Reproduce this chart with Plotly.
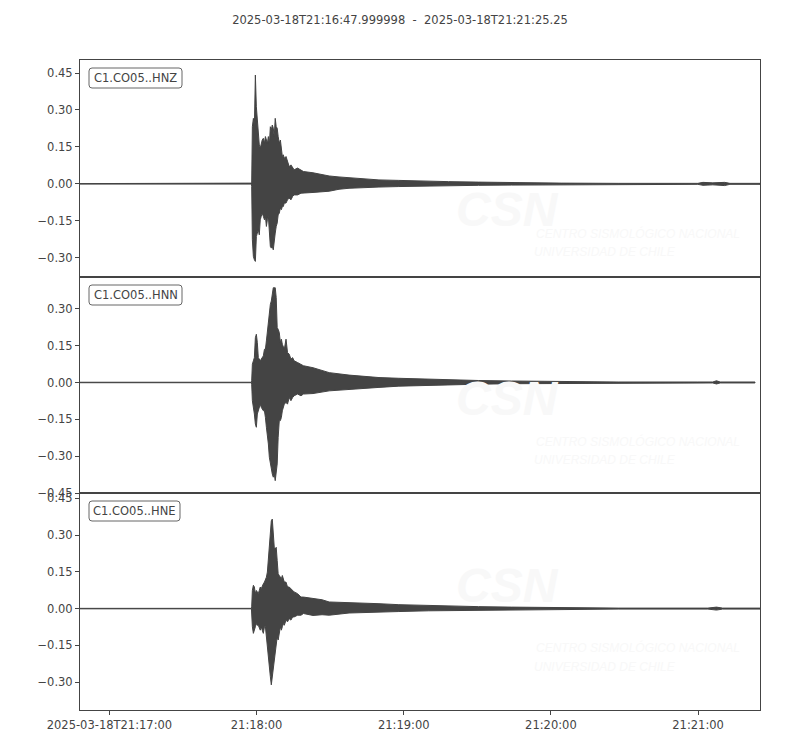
import pandas as pd
import plotly.graph_objects as go
from plotly.subplots import make_subplots

# ---------------- data ----------------
START = "2025-03-18T21:16:47.999998"
END = "2025-03-18T21:21:25.25"
TITLE = "2025-03-18T21:16:47.999998  -  2025-03-18T21:21:25.25"
CHANNELS = ["C1.CO05..HNZ", "C1.CO05..HNN", "C1.CO05..HNE"]

# seconds after START, upper / lower envelope of each trace
T_HNZ = [0.0, 69.9, 70.0, 70.28, 70.69, 71.09, 71.5, 71.9, 72.3, 72.7, 73.1, 73.5, 73.9, 74.3,
         74.75, 75.2, 75.6, 76.0, 76.4, 76.8, 77.2, 77.6, 78.0, 78.4, 78.8, 79.2, 79.6, 80.0,
         80.4, 80.8, 81.25, 81.7, 82.1, 82.5, 82.9, 83.3, 84.0, 84.6, 85.3, 86.0, 86.7, 87.3,
         88.7, 90.1, 91.1, 95.0, 101.6, 105.6, 109.7, 115.8, 121.9, 130.0, 142.2, 150.3, 162.5,
         175.9, 196.2, 219.4, 251.9, 254.0, 258.0, 262.8, 265.0, 277.25]
UP_HNZ = [0.001, 0.001, 0.003, 0.232, 0.266, 0.232, 0.442, 0.313, 0.246, 0.219, 0.158, 0.145,
          0.165, 0.178, 0.185, 0.165, 0.192, 0.178, 0.165, 0.192, 0.158, 0.232, 0.219, 0.239,
          0.226, 0.192, 0.266, 0.232, 0.226, 0.192, 0.165, 0.178, 0.131, 0.111, 0.118, 0.104,
          0.111, 0.090, 0.070, 0.077, 0.064, 0.057, 0.064, 0.057, 0.050, 0.045, 0.032, 0.028,
          0.025, 0.020, 0.016, 0.014, 0.010, 0.009, 0.007, 0.005, 0.003, 0.002, 0.002, 0.006,
          0.004, 0.006, 0.002, 0.002]
LO_HNZ = [-0.001, -0.001, -0.011, -0.227, -0.295, -0.308, -0.315, -0.214, -0.200, -0.186, -0.207,
          -0.146, -0.132, -0.119, -0.132, -0.146, -0.132, -0.173, -0.146, -0.132, -0.159, -0.254,
          -0.261, -0.254, -0.268, -0.247, -0.200, -0.173, -0.159, -0.126, -0.119, -0.098, -0.105,
          -0.092, -0.092, -0.078, -0.078, -0.065, -0.058, -0.065, -0.051, -0.045, -0.045, -0.038,
          -0.038, -0.035, -0.030, -0.022, -0.018, -0.015, -0.013, -0.011, -0.008, -0.007, -0.006,
          -0.005, -0.003, -0.002, -0.002, -0.006, -0.004, -0.007, -0.002, -0.002]

T_HNN = [0.0, 69.9, 70.0, 70.28, 70.69, 71.09, 71.5, 71.9, 72.3, 72.7, 73.1, 73.5, 73.9, 74.3,
         74.75, 75.2, 75.6, 76.0, 76.4, 76.8, 77.2, 77.6, 78.0, 78.4, 78.8, 79.2, 79.6, 80.0,
         80.4, 80.8, 81.25, 81.7, 82.1, 82.5, 82.9, 83.3, 84.0, 84.6, 85.3, 86.0, 86.7, 87.3,
         88.7, 90.1, 91.1, 95.0, 101.6, 109.7, 121.9, 130.0, 142.2, 150.3, 162.5, 175.9, 196.2,
         219.4, 251.9, 258.0, 259.5, 261.0, 275.2]
UP_HNN = [0.001, 0.001, 0.007, 0.074, 0.088, 0.101, 0.182, 0.196, 0.162, 0.101, 0.095, 0.088,
          0.095, 0.101, 0.108, 0.135, 0.135, 0.169, 0.209, 0.250, 0.277, 0.317, 0.331, 0.365,
          0.385, 0.385, 0.385, 0.345, 0.223, 0.216, 0.203, 0.162, 0.176, 0.155, 0.142, 0.135,
          0.176, 0.122, 0.115, 0.095, 0.101, 0.088, 0.081, 0.074, 0.068, 0.060, 0.040, 0.030,
          0.020, 0.017, 0.013, 0.010, 0.008, 0.006, 0.004, 0.002, 0.002, 0.002, 0.007, 0.002,
          0.002]
LO_HNN = [-0.001, -0.001, -0.007, -0.074, -0.101, -0.128, -0.169, -0.182, -0.128, -0.115, -0.101,
          -0.088, -0.101, -0.108, -0.115, -0.115, -0.142, -0.182, -0.223, -0.250, -0.304, -0.324,
          -0.345, -0.372, -0.385, -0.372, -0.399, -0.385, -0.331, -0.223, -0.155, -0.155, -0.142,
          -0.115, -0.101, -0.088, -0.081, -0.088, -0.061, -0.074, -0.061, -0.054, -0.047, -0.054,
          -0.047, -0.045, -0.034, -0.027, -0.020, -0.015, -0.011, -0.009, -0.007, -0.005, -0.004,
          -0.002, -0.002, -0.002, -0.006, -0.002, -0.002]

T_HNE = [0.0, 69.9, 70.0, 70.28, 70.69, 71.09, 71.5, 71.9, 72.3, 72.7, 73.1, 73.5, 73.9, 74.3,
         74.75, 75.2, 75.6, 76.0, 76.4, 76.8, 77.2, 77.6, 78.0, 78.4, 78.8, 79.2, 79.6, 80.0,
         80.4, 80.8, 81.25, 81.7, 82.1, 82.5, 82.9, 83.3, 84.0, 84.6, 85.3, 86.0, 86.7, 87.3,
         88.7, 90.1, 91.1, 95.0, 98.7, 101.6, 109.7, 121.9, 130.0, 142.2, 150.3, 162.5, 175.9,
         196.2, 219.4, 256.0, 259.5, 262.0, 277.25]
UP_HNE = [0.001, 0.001, 0.007, 0.074, 0.095, 0.088, 0.061, 0.074, 0.068, 0.061, 0.074, 0.088,
          0.081, 0.095, 0.101, 0.108, 0.115, 0.128, 0.149, 0.196, 0.236, 0.304, 0.358, 0.365,
          0.291, 0.250, 0.243, 0.250, 0.196, 0.142, 0.135, 0.128, 0.122, 0.135, 0.122, 0.108,
          0.108, 0.088, 0.088, 0.081, 0.074, 0.068, 0.061, 0.047, 0.047, 0.040, 0.036, 0.027,
          0.025, 0.020, 0.016, 0.012, 0.010, 0.008, 0.006, 0.004, 0.002, 0.002, 0.006, 0.002,
          0.002]
LO_HNE = [-0.001, -0.001, -0.007, -0.074, -0.101, -0.088, -0.074, -0.061, -0.068, -0.068, -0.074,
          -0.088, -0.074, -0.088, -0.101, -0.074, -0.074, -0.115, -0.142, -0.196, -0.236, -0.277,
          -0.311, -0.291, -0.250, -0.223, -0.182, -0.149, -0.115, -0.128, -0.101, -0.074, -0.088,
          -0.074, -0.061, -0.068, -0.047, -0.054, -0.041, -0.047, -0.034, -0.034, -0.027, -0.027,
          -0.020, -0.028, -0.025, -0.027, -0.018, -0.014, -0.012, -0.009, -0.008, -0.006, -0.005,
          -0.004, -0.002, -0.002, -0.006, -0.002, -0.002]

Y_RANGES = [[-0.377, 0.503], [-0.4505, 0.43], [-0.4135, 0.470]]
X_TICKS = ["2025-03-18 21:17:00", "2025-03-18 21:18:00", "2025-03-18 21:19:00",
           "2025-03-18 21:20:00", "2025-03-18 21:21:00"]
X_TICKTEXT = ["2025-03-18T21:17:00", "21:18:00", "21:19:00", "21:20:00", "21:21:00"]

WATERMARK_BIG = "CSN"
WATERMARK_L1 = "CENTRO SISMOLÓGICO NACIONAL"
WATERMARK_L2 = "UNIVERSIDAD DE CHILE"

# ---------------- figure ----------------
W, H = 800, 750
PAGE_OFF = 8                      # default body margin of the html page
PL, PR, PT, PB = 80, 760, 60, 710  # wanted plot area on screen (px)
INK = "#444444"
WM = "#f8f8f8"
FONT = "DejaVu Sans"

start = pd.Timestamp(START)


def to_dates(ts):
    return [(start + pd.to_timedelta(t, unit="s")).strftime("%Y-%m-%d %H:%M:%S.%f") for t in ts]


def px2x(px):
    return (px - PL) / (PR - PL)


def py2y(py):
    return (PB - py) / (PB - PT)


fig = make_subplots(rows=3, cols=1, shared_xaxes=True, vertical_spacing=0)

traces = [(T_HNZ, UP_HNZ, LO_HNZ), (T_HNN, UP_HNN, LO_HNN), (T_HNE, UP_HNE, LO_HNE)]
for i, (t, up, lo) in enumerate(traces):
    xs = to_dates(t)
    fig.add_trace(
        go.Scatter(
            x=xs + xs[::-1],
            y=up + lo[::-1],
            mode="lines",
            fill="toself",
            fillcolor=INK,
            line=dict(color=INK, width=1),
            hoverinfo="skip",
            showlegend=False,
            name=CHANNELS[i],
        ),
        row=i + 1, col=1,
    )

x_range = [start.strftime("%Y-%m-%d %H:%M:%S.%f"), pd.Timestamp(END).strftime("%Y-%m-%d %H:%M:%S.%f")]

for i in range(3):
    fig.update_yaxes(
        range=Y_RANGES[i], tick0=0, dtick=0.15, tickformat=".2f",
        showline=True, mirror=True, linecolor=INK, linewidth=1,
        ticks="outside", ticklen=4, tickcolor=INK, tickwidth=1,
        showgrid=False, zeroline=False,
        tickfont=dict(family=FONT, size=11.5, color=INK),
        row=i + 1, col=1,
    )
    fig.update_xaxes(
        type="date", range=x_range,
        showline=True, mirror=True, linecolor=INK, linewidth=1,
        showgrid=False, zeroline=False,
        showticklabels=(i == 2), ticks="outside" if i == 2 else "",
        ticklen=4, tickcolor=INK, tickwidth=1,
        tickmode="array", tickvals=X_TICKS, ticktext=X_TICKTEXT,
        tickfont=dict(family=FONT, size=11.5, color=INK),
        row=i + 1, col=1,
    )

shapes = []
annotations = []
panel_offsets = [0, 217, 433]
box_right = [182, 182, 180]


def rrect(x0, y0, x1, y1, r=3):
    X0, X1 = px2x(x0), px2x(x1)
    Y0, Y1 = py2y(y0), py2y(y1)
    rx = r / (PR - PL)
    ry = r / (PB - PT)
    return (f"M {X0+rx},{Y0} L {X1-rx},{Y0} Q {X1},{Y0} {X1},{Y0-ry} "
            f"L {X1},{Y1+ry} Q {X1},{Y1} {X1-rx},{Y1} L {X0+rx},{Y1} "
            f"Q {X0},{Y1} {X0},{Y1+ry} L {X0},{Y0-ry} Q {X0},{Y0} {X0+rx},{Y0} Z")


for i, off in enumerate(panel_offsets):
    # very faint watermark
    annotations.append(dict(
        x=px2x(507), y=py2y(181 + off), xref="paper", yref="paper", text=WATERMARK_BIG,
        showarrow=False, font=dict(family="Liberation Sans", size=48, color=WM,
                                   weight="bold", style="italic")))
    annotations.append(dict(
        x=px2x(534), y=py2y(224 + off), xref="paper", yref="paper", text=WATERMARK_L1,
        xanchor="left", showarrow=False,
        font=dict(family="Liberation Sans", size=12, color=WM, style="italic")))
    annotations.append(dict(
        x=px2x(532), y=py2y(243 + off), xref="paper", yref="paper", text=WATERMARK_L2,
        xanchor="left", showarrow=False,
        font=dict(family="Liberation Sans", size=12, color=WM, style="italic")))
    # channel label box
    shapes.append(dict(type="path", xref="paper", yref="paper",
                       path=rrect(89, 68 + off, box_right[i], 88 + off),
                       line=dict(color="#666666", width=1), fillcolor="rgba(255,255,255,0.9)",
                       layer="above"))
    annotations.append(dict(
        x=px2x((89 + box_right[i]) / 2), y=py2y(78 + off), xref="paper", yref="paper",
        text=CHANNELS[i], showarrow=False, xanchor="center", yanchor="middle",
        font=dict(family=FONT, size=11.5, color=INK)))

fig.update_layout(
    width=W, height=H,
    margin=dict(l=PL - PAGE_OFF, r=W - PR + PAGE_OFF, t=PT - PAGE_OFF, b=H - PB + PAGE_OFF),
    paper_bgcolor="white", plot_bgcolor="white",
    title=dict(text=TITLE, x=(400 - PAGE_OFF) / W, xref="container", xanchor="center",
               y=1 - (20 - PAGE_OFF) / H, yref="container", yanchor="middle",
               font=dict(family=FONT, size=11.5, color=INK)),
    shapes=shapes, annotations=annotations,
    showlegend=False,
)

fig.write_html("out.html")
